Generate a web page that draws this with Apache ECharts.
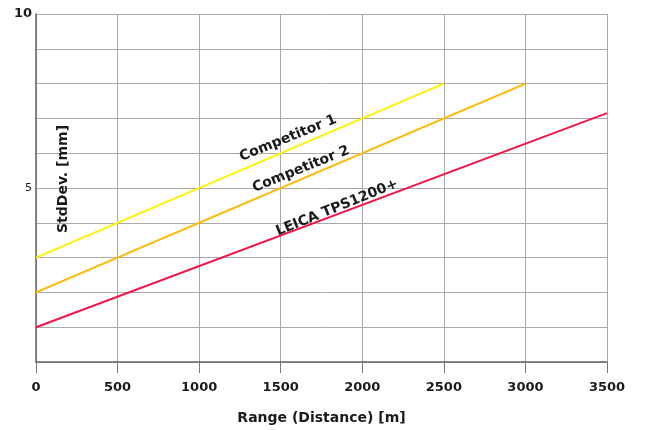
<!DOCTYPE html>
<html>
<head>
<meta charset="utf-8">
<script src="https://cdn.jsdelivr.net/npm/echarts@6/dist/echarts.min.js"></script>
<style>html,body{margin:0;padding:0;background:#fff}#c{width:649px;height:430px}</style>
</head>
<body>
<div id="c"></div>
<script>
const xTicks = [0, 500, 1000, 1500, 2000, 2500, 3000, 3500];
const yLabels = {5: '5', 10: '10'};
const competitor1 = [[0, 3], [2500, 8]];
const competitor2 = [[0, 2], [3000, 8]];
const leica = [[0, 1], [3500, 7.15]];
const labelNames = ['Competitor 1', 'Competitor 2', 'LEICA TPS1200+'];
const labelPos = [[1545, 6.43], [1624, 5.54], [1845, 4.43]];

const chart = echarts.init(document.getElementById('c'), null, {renderer: 'canvas'});
const font = 'DejaVu Sans, sans-serif';
function mk(name, data, color, idx) {
  return {
    name: name, type: 'line', data: data, symbol: 'none',
    lineStyle: {color: color, width: 2}, silent: true,
    markPoint: {
      symbol: 'circle', symbolSize: 0,
      data: [{coord: labelPos[idx]}],
      label: {show: true, formatter: labelNames[idx], rotate: 22, color: '#1a1a1a',
        fontFamily: font, fontSize: 14, fontWeight: 'bold', position: 'inside'}
    }
  };
}
chart.setOption({
  animation: false,
  grid: {left: 36, right: 42, top: 14, bottom: 66},
  xAxis: {
    type: 'value', min: 0, max: 3500, interval: 500,
    name: 'Range (Distance) [m]', nameLocation: 'middle', nameGap: 49,
    nameTextStyle: {fontFamily: font, fontSize: 14, fontWeight: 'bold', color: '#1a1a1a'},
    axisLine: {lineStyle: {color: '#666', width: 1.5}},
    axisTick: {show: true, length: 11, lineStyle: {color: '#777'}},
    axisLabel: {fontFamily: font, fontSize: 13, fontWeight: 'bold', color: '#1a1a1a', margin: 19,
      formatter: v => String(v)},
    splitLine: {show: true, lineStyle: {color: '#aaa', width: 1}}
  },
  yAxis: {
    type: 'value', min: 0, max: 10, interval: 1,
    name: 'StdDev. [mm]', nameLocation: 'middle', nameGap: -34, nameRotate: 90,
    nameTextStyle: {fontFamily: font, fontSize: 14, fontWeight: 'bold', color: '#1a1a1a', padding: [0, 0, 0, 18]},
    axisLine: {show: true, lineStyle: {color: '#666', width: 1.5}},
    axisTick: {show: false},
    axisLabel: {
      color: '#1a1a1a', margin: 4,
      formatter: v => v === 10 ? '{b|' + yLabels[v] + '}' : (yLabels[v] ? '{n|' + yLabels[v] + '}' : ''),
      rich: {
        b: {fontFamily: font, fontSize: 13, fontWeight: 'bold', color: '#1a1a1a'},
        n: {fontFamily: font, fontSize: 11, color: '#1a1a1a'}
      }
    },
    splitLine: {show: true, lineStyle: {color: '#aaa', width: 1}}
  },
  series: [
    mk('Competitor 1', competitor1, '#fff200', 0),
    mk('Competitor 2', competitor2, '#ffb800', 1),
    mk('LEICA TPS1200+', leica, '#f0184a', 2)
  ]
});
</script>
</body>
</html>
